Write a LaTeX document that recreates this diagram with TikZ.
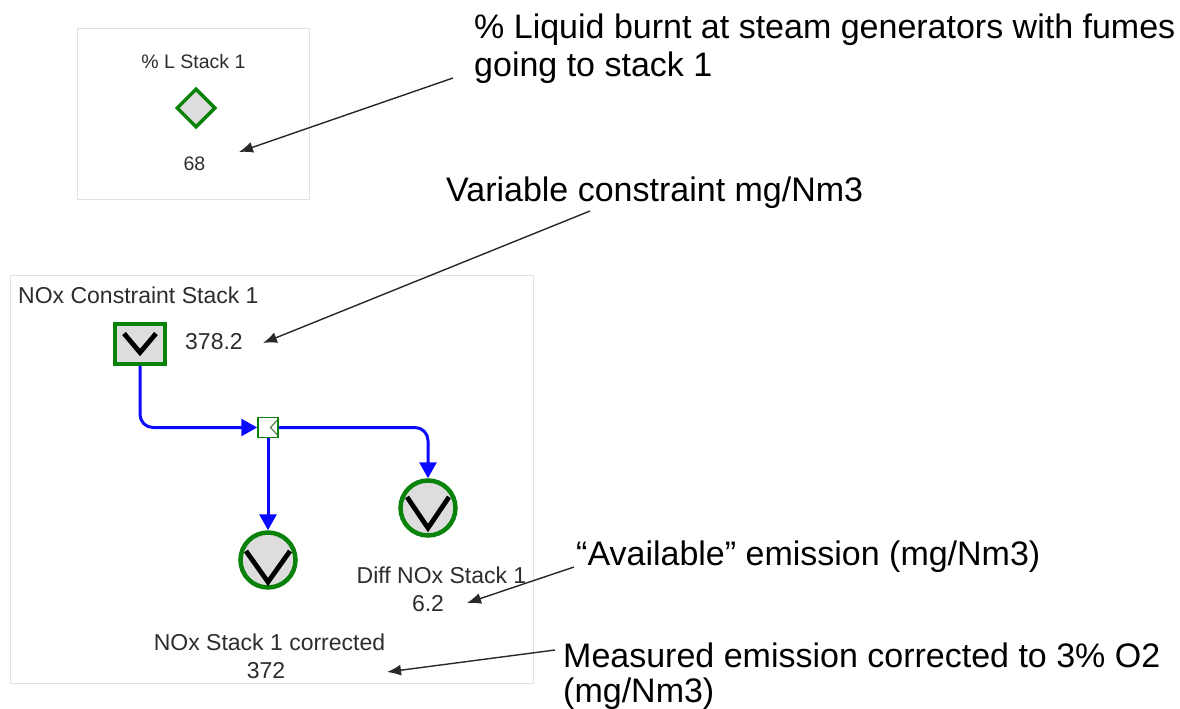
\documentclass[tikz,border=0pt]{standalone}
\usepackage{fontspec}
\setmainfont{Liberation Sans}
\usetikzlibrary{arrows.meta,shapes.geometric}

\definecolor{nodegreen}{RGB}{10,130,10}
\definecolor{nodefill}{RGB}{221,221,221}
\definecolor{flowblue}{RGB}{10,10,255}
\definecolor{labelgrey}{RGB}{45,45,45}
\definecolor{panelgrey}{RGB}{226,226,226}
\definecolor{notegrey}{RGB}{40,40,40}

\tikzset{
  panel/.style={draw=panelgrey, line width=1pt},
  ctrlbox/.style={rectangle, draw=nodegreen, fill=nodefill, line width=4pt,
    minimum width=50pt, minimum height=40pt, inner sep=0pt},
  ctrlcircle/.style={circle, draw=nodegreen, fill=nodefill, line width=4.5pt,
    minimum size=55pt, inner sep=0pt},
  ctrldiamond/.style={diamond, draw=nodegreen, fill=nodefill, line width=3.5pt,
    minimum width=39pt, minimum height=39pt, inner sep=0pt},
  junction/.style={rectangle, draw=nodegreen, fill=white, line width=1.5pt,
    minimum width=20pt, minimum height=20pt, inner sep=0pt},
  vmark/.style={draw=black, line width=4.8pt, line join=miter},
  flow/.style={draw=flowblue, line width=3pt, rounded corners=13pt,
    -{Triangle[length=16pt,width=17pt]}},
  note/.style={draw=notegrey, line width=1.4pt, -{Latex[length=14pt,width=11pt]}},
  lbl/.style={text=labelgrey, font=\fontsize{23}{27}\selectfont, inner sep=0pt},
  smalllbl/.style={text=labelgrey, font=\fontsize{19.5}{23}\selectfont, inner sep=0pt},
  anntext/.style={text=black, font=\fontsize{34}{38}\selectfont, inner sep=0pt, anchor=base west}
}

\begin{document}
\begin{tikzpicture}[x=1pt,y=-1pt]
\useasboundingbox (0,0) rectangle (1180,709);
\fill[white] (0,0) rectangle (1180,709);

% panels
\draw[panel] (77,29) rectangle (309,199);
\draw[panel] (10,275) rectangle (533,683);

% upper panel: liquid share input
\node[smalllbl, anchor=base] (plTitle) at (193.5,68) {\% L Stack 1};
\node[ctrldiamond] (pl) at (196,108) {};
\node[smalllbl, anchor=base] (plVal) at (194.5,170) {68};

% lower panel: constraint and outputs
\node[lbl, anchor=base west] (ncTitle) at (18,303) {NOx Constraint Stack 1};
\node[ctrlbox] (nc) at (140,343.5) {};
\draw[vmark] ([shift={(-16,-10)}]nc.center) -- ([shift={(0,9)}]nc.center) -- ([shift={(16,-10)}]nc.center);
\node[lbl, anchor=base west] (ncVal) at (185,349) {378.2};

\node[junction] (jn) at (268,427.5) {};
\draw[draw=gray!70!nodegreen, line width=1.2pt, line join=miter]
  ([shift={(9,-7)}]jn.center) -- ([shift={(2.5,0)}]jn.center) -- ([shift={(9,7)}]jn.center);

\node[ctrlcircle] (diff) at (428,508) {};
\draw[vmark] ([shift={(-21,-11)}]diff.center) -- ([shift={(0,20)}]diff.center) -- ([shift={(21,-11)}]diff.center);
\node[ctrlcircle] (corr) at (268,560) {};
\draw[vmark] ([shift={(-22,-9)}]corr.center) -- ([shift={(0,22)}]corr.center) -- ([shift={(22,-9)}]corr.center);

\node[lbl, anchor=base] (diffTitle) at (441.5,583) {Diff NOx Stack 1};
\node[lbl, anchor=base] (diffVal) at (428,611) {6.2};
\node[lbl, anchor=base] (corrTitle) at (269.5,650) {NOx Stack 1 corrected};
\node[lbl, anchor=base] (corrVal) at (266,678) {372};

% signal flow
\draw[flow] (nc.south) |- (jn.west);
\draw[flow] (jn.east) -| (diff.north);
\draw[flow] (jn.south) -- (corr.north);

% annotations
\node[anntext] (ann1a) at (474,39) {\% Liquid burnt at steam generators with fumes};
\node[anntext] (ann1b) at (474,77) {going to stack 1};
\node[anntext] (ann2) at (446,201) {Variable constraint mg/Nm3};
\node[anntext] (ann3) at (576,565) {“Available” emission (mg/Nm3)};
\node[anntext] (ann4a) at (563,667) {Measured emission corrected to 3\% O2};
\node[anntext] (ann4b) at (563,702) {(mg/Nm3)};

\coordinate (t1) at (453,78);
\coordinate (h1) at (239,152);
\coordinate (t2) at (590,211);
\coordinate (h2) at (263,343);
\coordinate (t3) at (574,567);
\coordinate (h3) at (467,603);
\coordinate (t4) at (555,650);
\coordinate (h4) at (387,672);
\draw[note] (t1) -- (h1);
\draw[note] (t2) -- (h2);
\draw[note] (t3) -- (h3);
\draw[note] (t4) -- (h4);
\end{tikzpicture}
\end{document}
